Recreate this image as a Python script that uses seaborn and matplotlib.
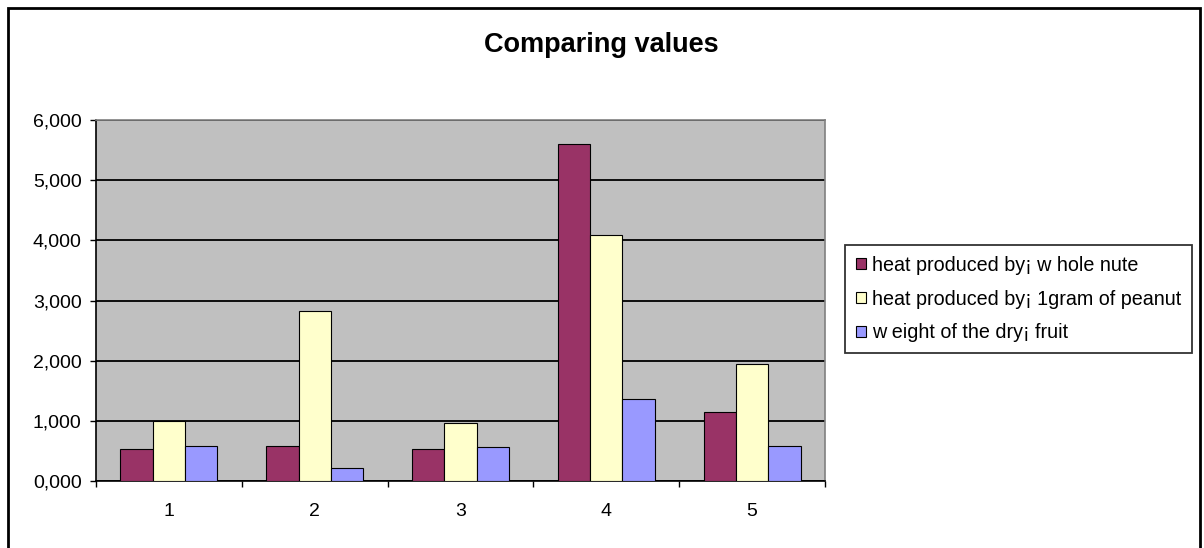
import matplotlib
matplotlib.use("Agg")
import matplotlib.pyplot as plt
import seaborn as sns
import pandas as pd
from matplotlib.patches import Rectangle

categories = ["1", "2", "3", "4", "5"]
series_names = [
    "heat produced by\u00a1 w hole nute",
    "heat produced by\u00a1 1gram of peanut",
    "w eight of the dry\u00a1 fruit",
]
whole_nut = [527, 576, 527, 5598, 1141]
one_gram = [992, 2824, 958, 4091, 1949]
dry_weight = [576, 211, 560, 1362, 576]
ytick_values = [0, 1000, 2000, 3000, 4000, 5000, 6000]
ytick_labels = ["0,000", "1,000", "2,000", "3,000", "4,000", "5,000", "6,000"]
colors = ["#993366", "#FFFFCC", "#9999FF"]

rows = []
for name, vals in zip(series_names, [whole_nut, one_gram, dry_weight]):
    for c, v in zip(categories, vals):
        rows.append({"cat": c, "series": name, "value": v})
df = pd.DataFrame(rows)

sns.set_theme(style="white")
plt.rcParams["font.family"] = ["Liberation Sans", "DejaVu Sans"]
for k in ["text.color", "axes.labelcolor", "xtick.color", "ytick.color"]:
    plt.rcParams[k] = "black"

fig = plt.figure(figsize=(12.04, 5.48), dpi=100)
ax = fig.add_axes([96 / 1204, 1 - 481 / 548, (825 - 96) / 1204, (481 - 120) / 548])
ax.set_facecolor("#C0C0C0")

sns.barplot(data=df, x="cat", y="value", hue="series", hue_order=series_names,
            palette=colors, width=0.664, edgecolor="black", linewidth=0.8,
            saturation=1, ax=ax, legend=True, zorder=3)

ax.set_ylim(0, 6000)
ax.set_xlim(-0.5, 4.5)
ax.set_yticks(ytick_values)
ax.set_yticklabels(ytick_labels, fontsize=14)
ax.yaxis.grid(True, color="black", linewidth=1.3, zorder=1)
ax.set_axisbelow(True)
ax.set_xlabel("")
ax.set_ylabel("")
ax.tick_params(axis="y", which="major", length=4.3, width=1, color="black",
               direction="out", left=True, pad=6, labelsize=14)
ax.set_xticks(range(len(categories)))
ax.set_xticklabels(categories, fontsize=14)
ax.set_xticks([i - 0.5 for i in range(len(categories) + 1)], minor=True)
ax.tick_params(axis="x", which="major", length=0, pad=16, labelsize=14)
ax.tick_params(axis="x", which="minor", length=4.3, width=1, color="black",
               direction="out", bottom=True)
for s in ["left", "bottom"]:
    ax.spines[s].set_color("black")
    ax.spines[s].set_linewidth(1.2)
for s in ["top", "right"]:
    ax.spines[s].set_color("#808080")
    ax.spines[s].set_linewidth(1.2)

handles, labels = ax.get_legend_handles_labels()
ax.get_legend().remove()
leg = fig.legend(handles, labels, loc="upper left",
                 bbox_to_anchor=(845 / 1204, 1 - 245 / 548),
                 fontsize=14.2, frameon=True, fancybox=False, shadow=False,
                 borderpad=0.55, labelspacing=0.75, handlelength=0.5,
                 handleheight=0.5, handletextpad=0.3, borderaxespad=0)
leg.get_frame().set_edgecolor("black")
leg.get_frame().set_linewidth(1.3)
for h in leg.legend_handles:
    h.set_edgecolor("black")
    h.set_linewidth(0.8)

fig.text(601 / 1204, 1 - 45 / 548, "Comparing values", ha="center", va="center",
         fontsize=19.5, fontweight="bold")

border = Rectangle((8 / 1204, -0.05), (1200 - 8) / 1204, (548 - 8) / 548 + 0.05,
                   transform=fig.transFigure, fill=False, edgecolor="black",
                   linewidth=2, zorder=10)
fig.patches.append(border)

fig.savefig("out.png", dpi=100, facecolor="white")
